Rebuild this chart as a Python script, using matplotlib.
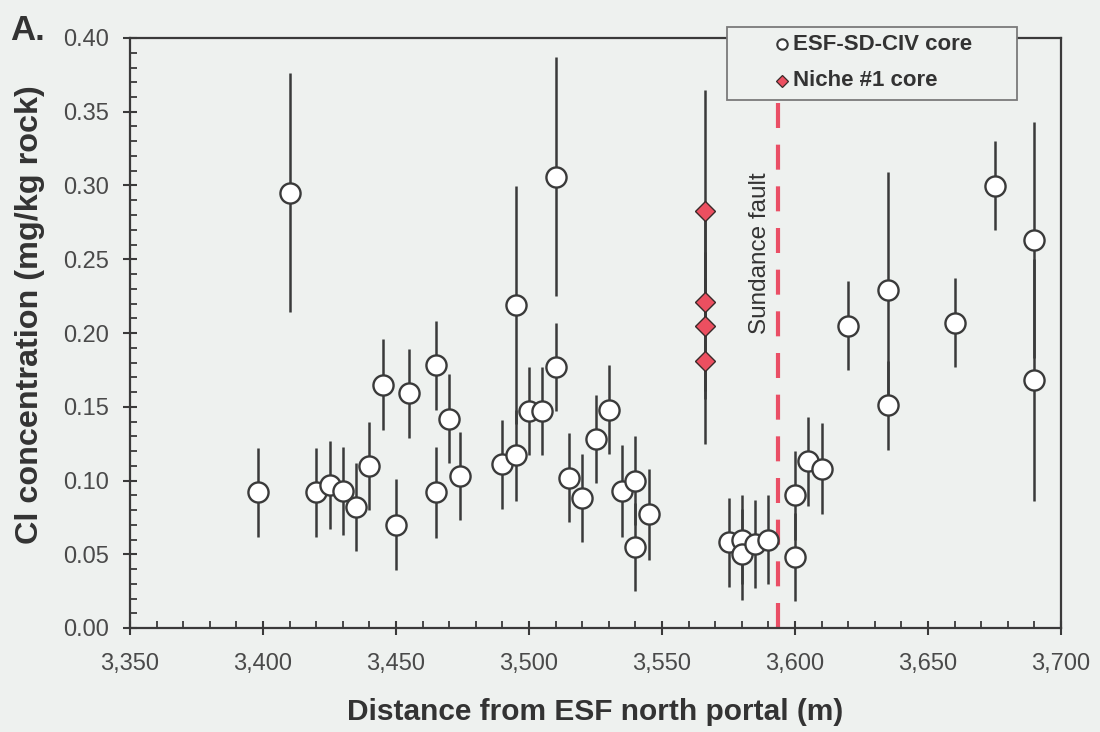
import matplotlib
matplotlib.use('Agg')
import matplotlib.pyplot as plt
from matplotlib.lines import Line2D
from matplotlib.patches import Rectangle
from matplotlib.ticker import MultipleLocator, FuncFormatter

plt.rcParams['font.family'] = ['Liberation Sans', 'DejaVu Sans']

# ESF-SD-CIV core samples
core_x = [3398, 3410, 3420, 3425, 3430, 3435, 3440, 3445, 3450, 3455,
          3465, 3465, 3470, 3474, 3490, 3495, 3495, 3500, 3505, 3510,
          3510, 3515, 3520, 3525, 3530, 3535, 3540, 3540, 3545, 3575,
          3580, 3580, 3585, 3590, 3600, 3600, 3605, 3610, 3620, 3635,
          3635, 3660, 3675, 3690, 3690]
core_cl = [0.092, 0.295, 0.092, 0.097, 0.093, 0.082, 0.110, 0.165, 0.070, 0.159,
           0.178, 0.092, 0.142, 0.103, 0.111, 0.219, 0.117, 0.147, 0.147, 0.306,
           0.177, 0.102, 0.088, 0.128, 0.148, 0.093, 0.100, 0.055, 0.077, 0.058,
           0.060, 0.050, 0.057, 0.060, 0.090, 0.048, 0.113, 0.108, 0.205, 0.229,
           0.151, 0.207, 0.300, 0.263, 0.168]
core_err = [0.030, 0.081, 0.030, 0.030, 0.030, 0.030, 0.030, 0.031, 0.031, 0.030,
            0.030, 0.031, 0.030, 0.030, 0.030, 0.081, 0.031, 0.030, 0.030, 0.081,
            0.030, 0.030, 0.030, 0.030, 0.030, 0.031, 0.030, 0.030, 0.031, 0.030,
            0.030, 0.031, 0.030, 0.030, 0.030, 0.030, 0.030, 0.031, 0.030, 0.080,
            0.030, 0.030, 0.030, 0.080, 0.082]

# Niche #1 core samples
niche_x = [3566, 3566, 3566, 3566]
niche_cl = [0.283, 0.221, 0.205, 0.181]
niche_err = [0.082, 0.060, 0.050, 0.056]

fault_x = 3593.5

labels = ['ESF-SD-CIV core', 'Niche #1 core']

bg = '#eef1ef'
ink = '#3a3a3a'
red = '#ec4f60'

W, H = 1100, 732
fig = plt.figure(figsize=(11, 7.32), dpi=100, facecolor=bg)
ax = fig.add_axes([130 / W, 1 - 628 / H, (1061 - 130) / W, (628 - 38) / H])
ax.set_facecolor(bg)

ax.axvline(fault_x, color='#ea4f66', lw=3, dashes=(6, 4), zorder=1)
ax.text(fault_x - 6.8, 0.254, 'Sundance fault', rotation=90, ha='center', va='center',
        fontsize=17.5, color='#333333')

ax.errorbar(core_x, core_cl, yerr=core_err, fmt='none', ecolor=ink, elinewidth=1.8,
            capsize=0, zorder=2)
ax.plot(core_x, core_cl, 'o', ms=14.5, mfc='white', mec=ink, mew=1.7, zorder=3)

ax.errorbar(niche_x, niche_cl, yerr=niche_err, fmt='none', ecolor=ink, elinewidth=1.8,
            capsize=0, zorder=2)
ax.plot(niche_x, niche_cl, 'D', ms=10.5, mfc=red, mec='#3a2a2a', mew=1.0, zorder=4)

ax.set_xlim(3350, 3700)
ax.set_ylim(0, 0.40)
ax.xaxis.set_major_locator(MultipleLocator(50))
ax.xaxis.set_minor_locator(MultipleLocator(10))
ax.yaxis.set_major_locator(MultipleLocator(0.05))
ax.yaxis.set_minor_locator(MultipleLocator(0.01))
ax.xaxis.set_major_formatter(FuncFormatter(lambda v, p: f'{v:,.0f}'))
ax.yaxis.set_major_formatter(FuncFormatter(lambda v, p: f'{v:.2f}'))
ax.tick_params(which='major', direction='inout', length=10, width=1.5, color=ink,
               labelsize=17, labelcolor='#4a4a4a')
ax.tick_params(axis='y', which='major', pad=10)
ax.tick_params(axis='x', which='major', pad=13)
ax.tick_params(which='minor', direction='in', length=5, width=1.3, color=ink)
for s in ax.spines.values():
    s.set_color(ink)
    s.set_linewidth(1.6)

ax.set_xlabel('Distance from ESF north portal (m)', fontsize=21.5, fontweight='bold',
              color='#333333')
ax.xaxis.set_label_coords(0.5, -(712 - 628) / (628 - 38), transform=ax.transAxes)
ax.xaxis.label.set_va('center')
ax.set_ylabel('Cl concentration (mg/kg rock)', fontsize=23.3, fontweight='bold',
              color='#333333')
ax.yaxis.set_label_coords(-(130 - 30) / (1061 - 130), (628 - 315) / (628 - 38),
                          transform=ax.transAxes)
ax.yaxis.label.set_va('center')
fig.text(10 / W, 1 - 31 / H, 'A.', fontsize=25, fontweight='bold', color='#333333',
         ha='left', va='center')

# legend box, drawn over the top spine like the original
fig.add_artist(Rectangle((727 / W, 1 - 100 / H), (1017 - 727) / W, (100 - 27) / H,
                         transform=fig.transFigure, facecolor=bg, edgecolor='#7a7a7a',
                         lw=1.3, zorder=5))
rows = [44, 81]
fig.add_artist(Line2D([782 / W], [1 - rows[0] / H], marker='o', ms=7.5, mfc='white',
                      mec=ink, mew=1.5, transform=fig.transFigure, zorder=6))
fig.add_artist(Line2D([782 / W], [1 - rows[1] / H], marker='D', ms=6.5, mfc=red,
                      mec='#3a2a2a', mew=0.9, transform=fig.transFigure, zorder=6))
for yy, lab in zip(rows, labels):
    fig.text(793 / W, 1 - yy / H, lab, fontsize=16, fontweight='bold', color='#333333',
             ha='left', va='center', zorder=6)

fig.savefig('out.png', dpi=100, facecolor=bg)
plt.close(fig)
